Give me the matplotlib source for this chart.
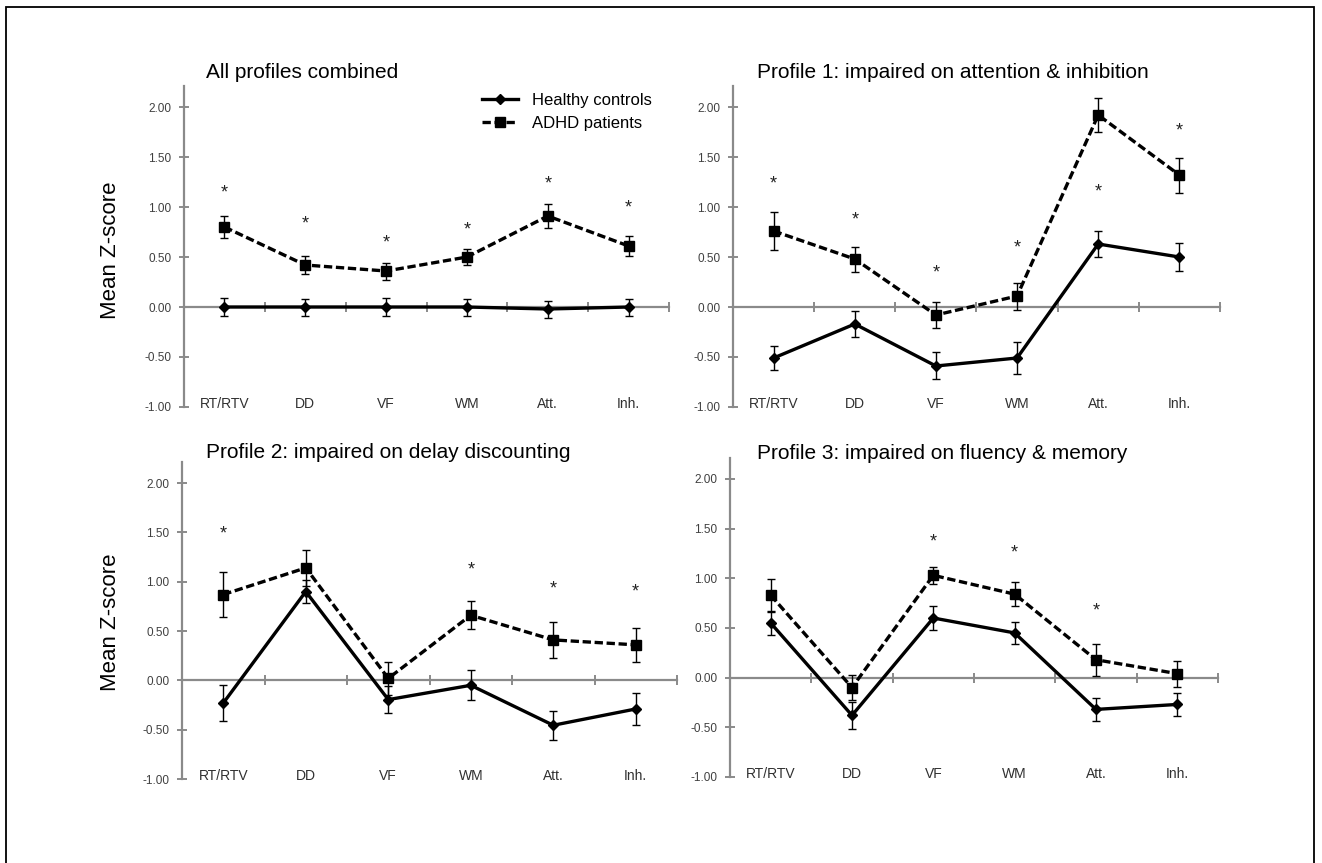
import matplotlib
matplotlib.use('Agg')
import matplotlib.pyplot as plt
from matplotlib.lines import Line2D
from matplotlib.patches import Rectangle
import numpy as np

plt.rcParams['font.family'] = ['Liberation Sans', 'DejaVu Sans']

categories = ['RT/RTV', 'DD', 'VF', 'WM', 'Att.', 'Inh.']
titles = ['All profiles combined',
          'Profile 1: impaired on attention & inhibition',
          'Profile 2: impaired on delay discounting',
          'Profile 3: impaired on fluency & memory']

# healthy controls (mean, error)
hc_all = [0.00, 0.00, 0.00, 0.00, -0.02, 0.00]
hc_all_err = [0.09, 0.085, 0.09, 0.085, 0.085, 0.085]
hc_p1 = [-0.51, -0.17, -0.59, -0.51, 0.63, 0.50]
hc_p1_err = [0.12, 0.13, 0.135, 0.16, 0.13, 0.14]
hc_p2 = [-0.23, 0.90, -0.195, -0.05, -0.455, -0.29]
hc_p2_err = [0.18, 0.12, 0.14, 0.15, 0.145, 0.16]
hc_p3 = [0.55, -0.38, 0.60, 0.45, -0.32, -0.27]
hc_p3_err = [0.12, 0.135, 0.12, 0.11, 0.115, 0.12]

# ADHD patients (mean, error)
adhd_all = [0.80, 0.42, 0.36, 0.50, 0.91, 0.61]
adhd_all_err = [0.11, 0.09, 0.085, 0.08, 0.12, 0.10]
adhd_p1 = [0.76, 0.48, -0.08, 0.11, 1.92, 1.32]
adhd_p1_err = [0.19, 0.125, 0.13, 0.135, 0.17, 0.175]
adhd_p2 = [0.87, 1.14, 0.02, 0.66, 0.41, 0.36]
adhd_p2_err = [0.23, 0.18, 0.165, 0.14, 0.18, 0.17]
adhd_p3 = [0.83, -0.10, 1.03, 0.84, 0.18, 0.04]
adhd_p3_err = [0.165, 0.13, 0.085, 0.12, 0.16, 0.13]

# significance stars: (category index, height)
stars_all = [(0, 1.19), (1, 0.88), (2, 0.69), (3, 0.82), (4, 1.28), (5, 1.04)]
stars_p1 = [(0, 1.28), (1, 0.92), (2, 0.39), (3, 0.64), (4, 1.20), (5, 1.81)]
stars_p2 = [(0, 1.54), (3, 1.17), (4, 0.98), (5, 0.95)]
stars_p3 = [(2, 1.42), (3, 1.31), (4, 0.72)]

panels = [
    (hc_all, hc_all_err, adhd_all, adhd_all_err, stars_all),
    (hc_p1, hc_p1_err, adhd_p1, adhd_p1_err, stars_p1),
    (hc_p2, hc_p2_err, adhd_p2, adhd_p2_err, stars_p2),
    (hc_p3, hc_p3_err, adhd_p3, adhd_p3_err, stars_p3),
]

rects = [(0.1392, 0.5284, 0.3669, 0.3719),
         (0.5545, 0.5284, 0.3683, 0.3719),
         (0.1377, 0.0973, 0.3744, 0.3670),
         (0.5522, 0.0997, 0.3691, 0.3695)]
title_pos = [(206, 72), (757, 73), (206, 452), (757, 453)]

W, H = 1322, 863
fig = plt.figure(figsize=(W / 100, H / 100), dpi=100)
fig.patches.append(Rectangle((6 / W, -0.05), 1308 / W, 1.05 - 7 / H,
                             transform=fig.transFigure, fill=False,
                             edgecolor='black', lw=1.3))

axis_col = '#8a8a8a'
x = np.arange(len(categories)) + 0.5

for k, (hc, hc_err, ad, ad_err, stars) in enumerate(panels):
    ax = fig.add_axes(rects[k])
    ax.set_xlim(0, 6)
    ax.set_ylim(-1, 2.21)
    for s in ['top', 'right']:
        ax.spines[s].set_visible(False)
    ax.spines['bottom'].set_position(('data', 0))
    for s in ['left', 'bottom']:
        ax.spines[s].set_color(axis_col)
        ax.spines[s].set_linewidth(1.6)
    ax.set_yticks(np.arange(-1, 2.01, 0.5))
    ax.set_yticklabels(['%.2f' % v for v in np.arange(-1, 2.01, 0.5)])
    ax.set_xticks(np.arange(0, 7))
    ax.set_xticklabels([])
    ax.tick_params(axis='both', direction='inout', length=6.5, width=1.4,
                   color=axis_col)
    ax.tick_params(axis='y', labelsize=8.5, labelcolor='#404040', pad=6)
    ax.patch.set_visible(False)

    for i, c in enumerate(categories):
        ax.text(x[i], -0.97, c, ha='center', va='center', fontsize=10,
                color='#303030')

    ax.errorbar(x, hc, yerr=hc_err, color='black', lw=2.4, marker='D',
                markersize=5.5, ecolor='black', elinewidth=1.0, capsize=3,
                capthick=1.0, zorder=3)
    ax.errorbar(x, ad, yerr=ad_err, color='black', lw=2.4, ls=(0, (2.5, 1.1)),
                marker='s', markersize=7.5, ecolor='black', elinewidth=1.0,
                capsize=3, capthick=1.0, zorder=3)

    for i, h in stars:
        ax.annotate('*', (x[i], h), xytext=(0, -7), textcoords='offset points',
                    ha='center', va='baseline', fontsize=13, color='#222222')

    tx, ty = title_pos[k]
    fig.text(tx / W, 1 - ty / H, titles[k], ha='left', va='center',
             fontsize=15, color='black')

    if k == 0:
        handles = [Line2D([], [], color='black', lw=2.4, marker='D', markersize=5.5),
                   Line2D([], [], color='black', lw=2.4, ls=(0, (2.5, 1.1)),
                          marker='s', markersize=7)]
        ax.legend(handles, ['Healthy controls', 'ADHD patients'],
                  loc='upper left', bbox_to_anchor=(0.6, 1.0), frameon=False,
                  fontsize=12, handlelength=2.2, handletextpad=0.8,
                  labelspacing=0.5, numpoints=1, borderaxespad=0)

fig.text(111 / W, 1 - 250 / H, 'Mean Z-score', rotation=90, ha='center',
         va='center', fontsize=16)
fig.text(111 / W, 1 - 622 / H, 'Mean Z-score', rotation=90, ha='center',
         va='center', fontsize=16)

fig.savefig('out.png', dpi=100)
